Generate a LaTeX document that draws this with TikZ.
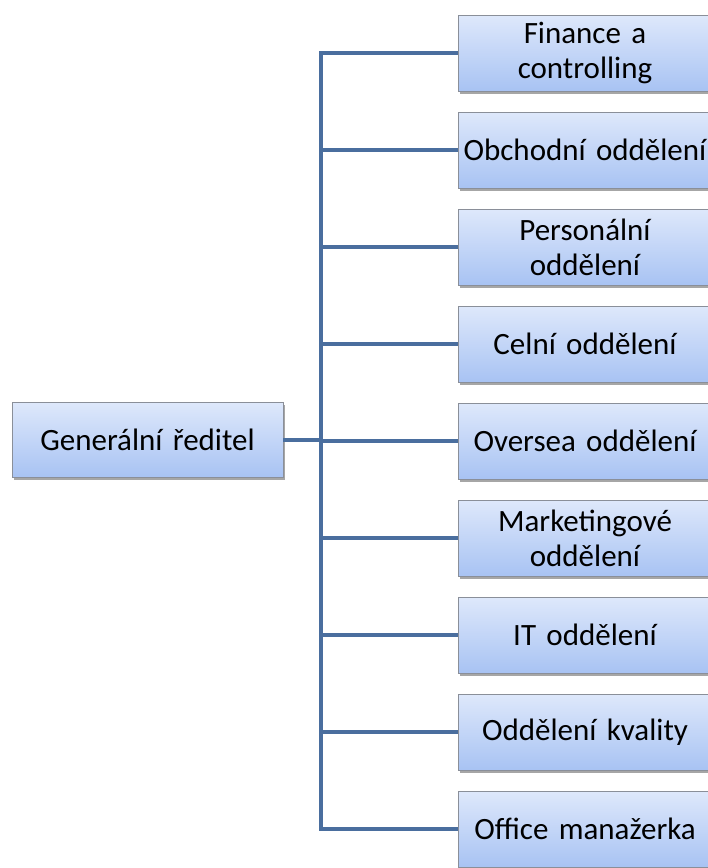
\documentclass[tikz,border=0pt]{standalone}
\usepackage{fontspec}
\setmainfont{Carlito}
\usetikzlibrary{shadows}
\definecolor{linkblue}{HTML}{4A6E9E}
\definecolor{boxtop}{HTML}{DEE8FB}
\definecolor{boxbot}{HTML}{A8C3F3}
\definecolor{boxedge}{HTML}{8A8F99}
\tikzset{
  unitbox/.style={draw=boxedge, line width=0.8pt, top color=boxtop, bottom color=boxbot,
    minimum width=254pt, minimum height=76pt, text width=252pt, align=center,
    font=\fontsize{31}{35}\selectfont, inner sep=0pt,
    drop shadow={shadow xshift=2pt, shadow yshift=-3pt, fill=black, opacity=0.35}},
  headbox/.style={unitbox, minimum width=271pt, text width=267pt, minimum height=75pt},
  link/.style={draw=linkblue, line width=4pt, line cap=rect}
}
\begin{document}
\begin{tikzpicture}[x=1pt, y=-1pt]
\useasboundingbox (0,0) rectangle (708,868);
\clip (0,0) rectangle (708,868);
% department boxes, one every 97pt
\foreach \n/\t [count=\i from 0] in {
  fin/{Finance a\\controlling},
  obch/{Obchodní oddělení},
  pers/{Personální\\oddělení},
  cel/{Celní oddělení},
  ovs/{Oversea oddělení},
  mkt/{Marketingové\\oddělení},
  it/{IT oddělení},
  kval/{Oddělení kvality},
  off/{Office manažerka}}{
  \node[unitbox] (\n) at (585, 53+97*\i) {\t};
}
\node[headbox] (gen) at (147.5, 439.5) {Generální ředitel};
% trunk line and branches
\coordinate (top) at (321, 53);
\coordinate (bot) at (321, 829);
\coordinate (mid) at (321, 439.5);
\draw[link] (top) -- (bot);
\draw[link, line cap=butt] (gen.east) -- (mid);
\foreach \n in {fin,obch,pers,cel,ovs,mkt,it,kval,off}{
  \draw[link, line cap=butt] (\n.west -| top) -- (\n.west);
}
\end{tikzpicture}
\end{document}
